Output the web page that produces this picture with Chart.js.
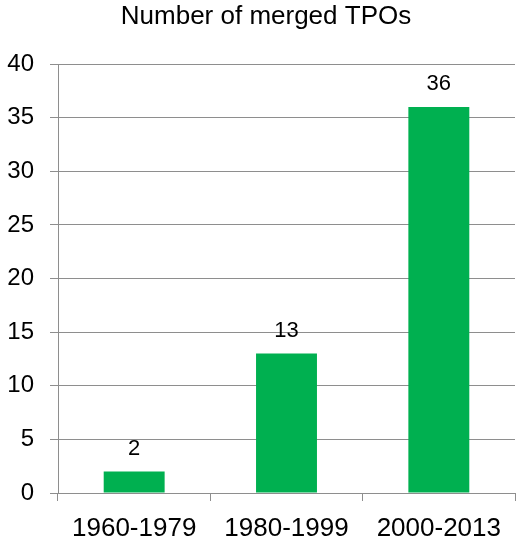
<!DOCTYPE html>
<html>
<head>
<meta charset="utf-8">
<script src="https://cdn.jsdelivr.net/npm/chart.js@4/dist/chart.umd.min.js"></script>
<style>
  html, body { margin: 0; padding: 0; background: #fff; }
  #wrap { width: 516px; height: 539px; }
</style>
</head>
<body>
<div id="wrap"><canvas id="c" width="516" height="539"></canvas></div>
<script>
const chartTitle = "Number of merged TPOs";
const categories = ["1960-1979", "1980-1999", "2000-2013"];
const mergedTPOs = [2, 13, 36];
const yTicks = [0, 5, 10, 15, 20, 25, 30, 35, 40];

const gridColor = '#8e8e8e';
const fontFamily = '"Liberation Sans", Arial, sans-serif';

const valueLabels = {
  id: 'valueLabels',
  afterDatasetsDraw(chart) {
    const ctx = chart.ctx;
    const meta = chart.getDatasetMeta(0);
    ctx.save();
    ctx.font = '22px ' + fontFamily;
    ctx.fillStyle = '#000';
    ctx.textAlign = 'center';
    ctx.textBaseline = 'alphabetic';
    meta.data.forEach((bar, i) => {
      ctx.fillText(String(chart.data.datasets[0].data[i]), bar.x, bar.y - 17);
    });
    ctx.restore();
  }
};

const titleText = {
  id: 'titleText',
  afterDraw(chart) {
    const ctx = chart.ctx;
    ctx.save();
    ctx.font = '26px ' + fontFamily;
    ctx.fillStyle = '#000';
    ctx.textAlign = 'center';
    ctx.textBaseline = 'middle';
    ctx.fillText(chartTitle, 266, 17);
    ctx.restore();
  }
};

new Chart(document.getElementById('c'), {
  type: 'bar',
  data: {
    labels: categories,
    datasets: [{
      data: mergedTPOs,
      backgroundColor: '#00B050',
      borderWidth: 0,
      categoryPercentage: 1.0,
      barPercentage: 0.4
    }]
  },
  options: {
    responsive: false,
    animation: false,
    devicePixelRatio: 1,
    layout: { padding: { left: 0, right: 1, top: 64, bottom: 0 } },
    plugins: {
      legend: { display: false },
      tooltip: { enabled: false },
      title: { display: false }
    },
    scales: {
      x: {
        grid: {
          display: true,
          offset: true,
          drawOnChartArea: false,
          drawTicks: true,
          tickLength: 8,
          color: gridColor,
          lineWidth: 1
        },
        border: { display: true, color: gridColor, width: 1 },
        ticks: {
          color: '#000',
          font: { family: fontFamily, size: 26 },
          padding: 12,
          maxRotation: 0,
          autoSkip: false
        },
        afterFit(scale) { scale.height = 46; }
      },
      y: {
        min: yTicks[0],
        max: yTicks[yTicks.length - 1],
        afterBuildTicks(scale) { scale.ticks = yTicks.map(v => ({ value: v })); },
        grid: {
          color: gridColor,
          lineWidth: 1,
          drawTicks: true,
          tickLength: 8
        },
        border: { display: true, color: gridColor, width: 1 },
        ticks: {
          color: '#000',
          font: { family: fontFamily, size: 24 },
          padding: 16
        },
        afterFit(scale) { scale.width = 58; }
      }
    }
  },
  plugins: [valueLabels, titleText]
});
</script>
</body>
</html>
